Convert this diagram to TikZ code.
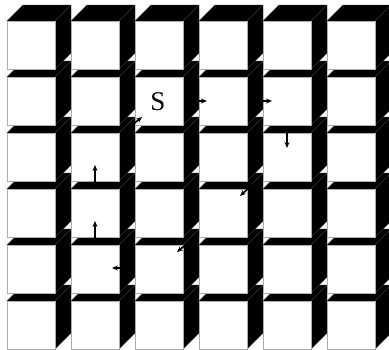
\documentclass[tikz,border=0pt]{standalone}
\usepackage{fontspec}
\setmainfont{Liberation Serif}
\usetikzlibrary{arrows.meta}
\tikzset{
  frontface/.style={fill=white, draw=gray!65, line width=0.9pt},
  darkface/.style={fill=black, draw=gray!40!black, line width=0.4pt},
  walk/.style={-{Stealth[length=6pt,width=5pt]}, line width=1.6pt, black},
  lbl/.style={font=\fontsize{27}{27}\selectfont, inner sep=0pt}
}
\begin{document}
\begin{tikzpicture}[x=1pt,y=-1pt]
\useasboundingbox (0,0) rectangle (389,349);
\clip (0,0) rectangle (389,349);
\fill[white] (0,0) rectangle (389,349);
% cubes, bottom row first so upper rows cover the tops of lower ones
\foreach \r in {5,4,3,2,1,0}{
  \foreach \c in {0,...,5}{
    \pgfmathsetmacro{\X}{7+64*\c}
    \pgfmathsetmacro{\Y}{21+56*\r}
    % top face
    \filldraw[darkface] (\X,\Y) -- (\X+48,\Y) -- (\X+64,\Y-16) -- (\X+16,\Y-16) -- cycle;
    % right face
    \filldraw[darkface] (\X+48,\Y) -- (\X+64,\Y-16) -- (\X+64,\Y+32) -- (\X+48,\Y+48) -- cycle;
    % front face
    \filldraw[frontface] (\X,\Y) rectangle (\X+48,\Y+48);
  }
}
\node[lbl] (s) at (158,102) {S};
% walk arrows
\coordinate (a1t) at (131,126); \coordinate (a1h) at (142,117);
\coordinate (a2t) at (190,101); \coordinate (a2h) at (207,101);
\coordinate (a3t) at (255,101); \coordinate (a3h) at (272,101);
\coordinate (a4t) at (287,127); \coordinate (a4h) at (287,148);
\coordinate (a5t) at (95,186);  \coordinate (a5h) at (95,165);
\coordinate (a6t) at (95,242);  \coordinate (a6h) at (95,221);
\coordinate (a7t) at (132,268); \coordinate (a7h) at (112,268);
\coordinate (a8t) at (189,242); \coordinate (a8h) at (177,252);
\coordinate (a9t) at (252,185); \coordinate (a9h) at (240,196);
\foreach \i in {1,...,9}{
  \draw[walk] (a\i t) -- (a\i h);
}
\end{tikzpicture}
\end{document}
